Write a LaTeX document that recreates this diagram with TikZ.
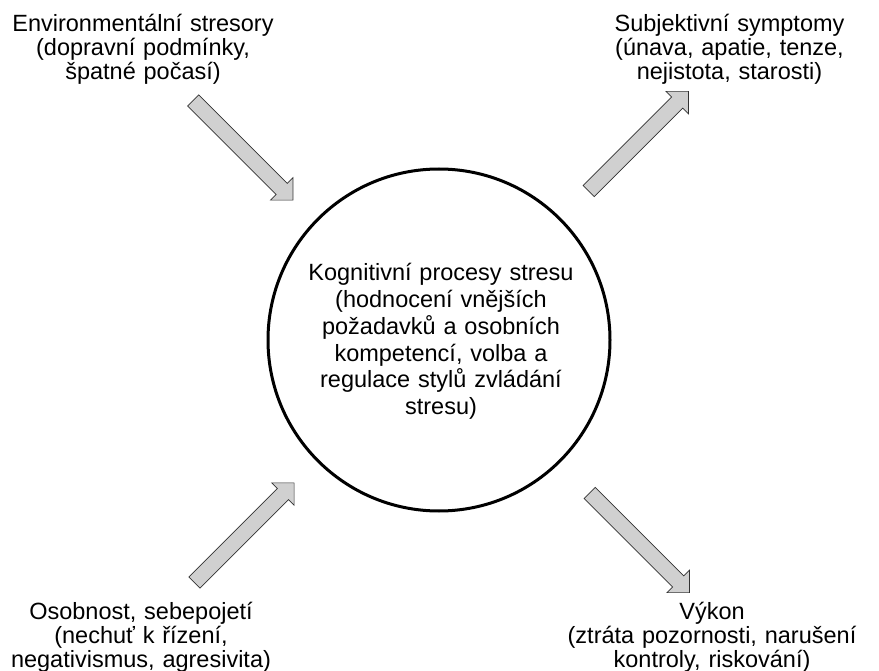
\documentclass[tikz,border=0pt]{standalone}
\usepackage{fontspec}
\setmainfont{Liberation Sans}
\usetikzlibrary{shapes.arrows}
\definecolor{arrowfill}{RGB}{208,208,208}
\definecolor{arrowline}{RGB}{50,50,50}
% fixed line pitch, even where accents would push lines apart
\newcommand\tightlines[2]{\fontsize{#1}{#2}\selectfont\lineskiplimit=-30pt\relax\lineskip=0pt\relax}
\tikzset{
  blockarrow/.style={single arrow, fill=arrowfill, draw=arrowline, line width=0.7pt,
    inner xsep=0pt, inner ysep=7.5pt, text height=0pt, text depth=0pt,
    single arrow head extend=8pt, single arrow tip angle=90,
    minimum height=141pt, outer sep=0pt},
  outertext/.style={anchor=base, inner sep=0pt, text width=320pt, align=center,
    font=\tightlines{23.5}{24}},
  innertext/.style={anchor=base, inner sep=0pt, text width=320pt, align=center,
    font=\tightlines{23.5}{26.8}},
  core/.style={circle, draw=black, line width=3pt, minimum size=342pt, inner sep=0pt}
}
\begin{document}
\begin{tikzpicture}[x=1pt, y=-1pt]
  \useasboundingbox (0,0) rectangle (879,671);

  % central circle with its text
  \node[core] (core) at (439,340) {};
  \node[innertext] (coretext) at (441,280.7)
    {Kognitivní procesy stresu\\(hodnocení vnějších\\požadavků a osobních\\kompetencí, volba a\\regulace stylů zvládání\\stresu)};

  % surrounding factors
  \node[outertext] (env) at (143,32)
    {Environmentální stresory\\(dopravní podmínky,\\špatné počasí)};
  \node[outertext] (subj) at (729.5,32)
    {Subjektivní symptomy\\(únava, apatie, tenze,\\nejistota, starosti)};
  \node[outertext] (pers) at (141,619)
    {Osobnost, sebepojetí\\(nechuť k řízení,\\negativismus, agresivita)};
  \node[outertext] (perf) at (712,619)
    {Výkon\\(ztráta pozornosti, narušení\\kontroly, riskování)};

  % block arrows between the factors and the circle
  \node[blockarrow, rotate=-45] (a-env)  at (240.3,147.5) {};
  \node[blockarrow, rotate=45]  (a-subj) at (635.8,144) {};
  \node[blockarrow, rotate=45]  (a-pers) at (241.5,535.5) {};
  \node[blockarrow, rotate=-45] (a-perf) at (636.8,540) {};
\end{tikzpicture}
\end{document}
